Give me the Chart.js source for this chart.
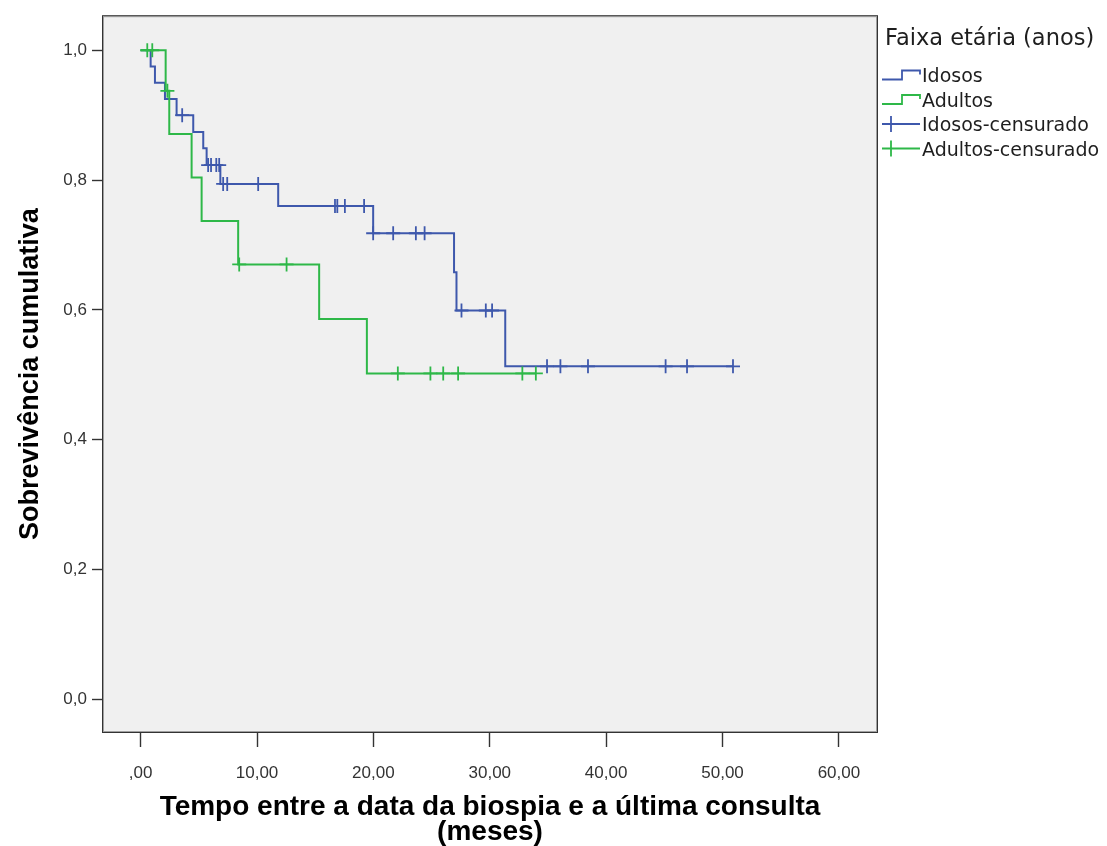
<!DOCTYPE html>
<html lang="pt">
<head>
<meta charset="utf-8">
<title>Sobrevivência cumulativa</title>
<script src="https://cdn.jsdelivr.net/npm/chart.js@4.4.1/dist/chart.umd.min.js"></script>
<style>
  html, body { margin: 0; padding: 0; background: #ffffff; }
  #wrap { position: relative; width: 1107px; height: 846px; }
  canvas { display: block; }
</style>
</head>
<body>
<div id="wrap"><canvas id="km" width="1107" height="846"></canvas></div>
<script>
// ---- Data (Kaplan-Meier, SPSS style) ----
// Idosos: event times (months) and survival after each step; last point = end of follow-up
const idososTimes = [0, 0.86, 1.23, 2.09, 3.09, 4.52, 5.38, 5.67, 6.85, 11.82, 19.98, 26.93, 27.14, 31.33, 50.9];
const idososSurv  = [1.0, 0.975, 0.950, 0.925, 0.900, 0.874, 0.849, 0.823, 0.794, 0.760, 0.718, 0.658, 0.599, 0.513, 0.513];
const idososCensored = [3.57, 5.8, 6.05, 6.5, 6.75, 7.09, 7.44, 10.1, 16.7, 16.9, 17.55, 19.2, 19.98, 21.7, 23.65, 24.4,
                        27.57, 29.66, 30.2, 34.92, 36.07, 38.44, 45.11, 46.95, 50.9];

// Adultos
const adultosTimes = [0, 2.15, 2.46, 4.38, 5.24, 8.38, 15.34, 19.44, 33.96];
const adultosSurv  = [1.0, 0.9375, 0.871, 0.804, 0.737, 0.670, 0.586, 0.502, 0.502];
const adultosCensored = [0.57, 1.0, 2.3, 8.47, 12.54, 22.1, 24.9, 26.0, 27.28, 32.8, 33.96];

// Axes
const xTicks = [0, 10, 20, 30, 40, 50, 60];
const xTickLabels = [",00", "10,00", "20,00", "30,00", "40,00", "50,00", "60,00"];
const yTicks = [0, 0.2, 0.4, 0.6, 0.8, 1.0];
const yTickLabels = ["0,0", "0,2", "0,4", "0,6", "0,8", "1,0"];
const xRange = [-3.32, 63.36];
const yRange = [-0.052, 1.054];

const seriesNames = ["Idosos", "Adultos", "Idosos-censurado", "Adultos-censurado"];
const legendTitle = "Faixa etária (anos)";
const xTitle = ["Tempo entre a data da biospia e a última consulta", "(meses)"];
const yTitle = "Sobrevivência cumulativa";

const BLUE = "#3e58ac";
const GREEN = "#2eb848";

// ---- helpers ----
function stepPoints(times, surv) {
  return times.map((t, i) => ({ x: t, y: surv[i] }));
}
function survAt(times, surv, t) {
  let s = surv[0];
  for (let i = 0; i < times.length; i++) { if (times[i] <= t) s = surv[i]; }
  return s;
}
function censorPoints(cens, times, surv) {
  return cens.map(t => ({ x: t, y: survAt(times, surv, t) }));
}

const FONT = "'Liberation Sans', Arial, Helvetica, sans-serif";

const framePlugin = {
  id: "frame",
  beforeDraw(chart) {
    const { ctx, chartArea: a } = chart;
    ctx.save();
    ctx.fillStyle = "#ffffff";
    ctx.fillRect(0, 0, chart.width, chart.height);
    ctx.fillStyle = "#f0f0f0";
    ctx.fillRect(a.left, a.top, a.right - a.left, a.bottom - a.top);
    ctx.restore();
  },
  afterDraw(chart) {
    const { ctx, chartArea: a } = chart;
    ctx.save();
    ctx.lineWidth = 1;
    ctx.strokeStyle = "#a0a0a0";
    ctx.strokeRect(a.left + 1.5, a.top + 1.5, a.right - a.left - 3, a.bottom - a.top - 3);
    ctx.strokeStyle = "#333333";
    ctx.strokeRect(a.left + 0.5, a.top + 0.5, a.right - a.left - 1, a.bottom - a.top - 1);
    ctx.restore();
  }
};

const legendPlugin = {
  id: "kmLegend",
  afterDraw(chart) {
    const { ctx } = chart;
    const x0 = 882, x1 = 920, tx = 922;
    const rows = [75, 99.5, 124, 148.5];
    const cols = [BLUE, GREEN, BLUE, GREEN];
    ctx.save();
    ctx.fillStyle = "#1e1e1e";
    ctx.textBaseline = "alphabetic";
    ctx.textAlign = "left";
    ctx.font = "22.5px 'DejaVu Sans', Verdana, sans-serif";
    ctx.fillText(legendTitle, 885, 45);
    ctx.font = "19px 'DejaVu Sans', Verdana, sans-serif";
    rows.forEach((cy, i) => {
      ctx.strokeStyle = cols[i];
      ctx.lineWidth = 1.8;
      ctx.beginPath();
      if (i < 2) {
        ctx.moveTo(x0, cy + 4.5);
        ctx.lineTo(902, cy + 4.5);
        ctx.lineTo(902, cy - 4.5);
        ctx.lineTo(x1, cy - 4.5);
        ctx.lineTo(x1, cy - 0.5);
      } else {
        ctx.moveTo(x0, cy);
        ctx.lineTo(x1, cy);
        ctx.moveTo(891, cy - 8);
        ctx.lineTo(891, cy + 8);
      }
      ctx.stroke();
      ctx.fillStyle = "#1e1e1e";
      ctx.fillText(seriesNames[i], tx, cy + 7);
    });
    ctx.restore();
  }
};

new Chart(document.getElementById("km"), {
  type: "line",
  data: {
    datasets: [
      { label: seriesNames[0], data: stepPoints(idososTimes, idososSurv), stepped: "before",
        borderColor: BLUE, borderWidth: 2, pointRadius: 0, fill: false, order: 4 },
      { label: seriesNames[1], data: stepPoints(adultosTimes, adultosSurv), stepped: "before",
        borderColor: GREEN, borderWidth: 2, pointRadius: 0, fill: false, order: 3 },
      { label: seriesNames[2], data: censorPoints(idososCensored, idososTimes, idososSurv), showLine: false,
        pointStyle: "cross", pointRadius: 7, pointBorderWidth: 1.8, borderColor: BLUE, backgroundColor: BLUE, order: 2 },
      { label: seriesNames[3], data: censorPoints(adultosCensored, adultosTimes, adultosSurv), showLine: false,
        pointStyle: "cross", pointRadius: 7, pointBorderWidth: 1.8, borderColor: GREEN, backgroundColor: GREEN, order: 1 }
    ]
  },
  options: {
    responsive: false,
    animation: false,
    devicePixelRatio: 1,
    layout: { padding: { left: 0, top: 14, right: 229, bottom: 0 } },
    plugins: { legend: { display: false }, tooltip: { enabled: false } },
    elements: { line: { tension: 0 } },
    scales: {
      x: {
        type: "linear",
        min: xRange[0], max: xRange[1],
        afterBuildTicks(scale) { scale.ticks = xTicks.map(v => ({ value: v })); },
        afterFit(scale) { scale.height = 113; },
        border: { display: false },
        grid: { display: true, drawOnChartArea: false, drawTicks: true, tickLength: 14, tickColor: "#333333", tickWidth: 1.4 },
        ticks: {
          autoSkip: false, maxRotation: 0, padding: 16, color: "#333333",
          font: { family: FONT, size: 17 },
          callback(value) { const i = xTicks.indexOf(value); return i >= 0 ? xTickLabels[i] : ""; }
        },
        title: {
          display: true, text: xTitle, color: "#000000",
          font: { family: FONT, size: 28, weight: "bold", lineHeight: "25px" },
          padding: { top: 0, bottom: 1.5 }
        }
      },
      y: {
        type: "linear",
        min: yRange[0], max: yRange[1],
        afterBuildTicks(scale) { scale.ticks = yTicks.map(v => ({ value: v })); },
        afterFit(scale) { scale.width = 102; },
        border: { display: false },
        grid: { display: true, drawOnChartArea: false, drawTicks: true, tickLength: 10, tickColor: "#333333", tickWidth: 1.4 },
        ticks: {
          autoSkip: false, padding: 5, color: "#333333",
          font: { family: FONT, size: 17 },
          callback(value) {
            const i = yTicks.findIndex(v => Math.abs(v - value) < 1e-9);
            return i >= 0 ? yTickLabels[i] : "";
          }
        },
        title: {
          display: true, text: yTitle, color: "#000000",
          font: { family: FONT, size: 27, weight: "bold", lineHeight: 1.2 },
          padding: { top: 14, bottom: 0 }
        }
      }
    }
  },
  plugins: [framePlugin, legendPlugin]
});
</script>
</body>
</html>
